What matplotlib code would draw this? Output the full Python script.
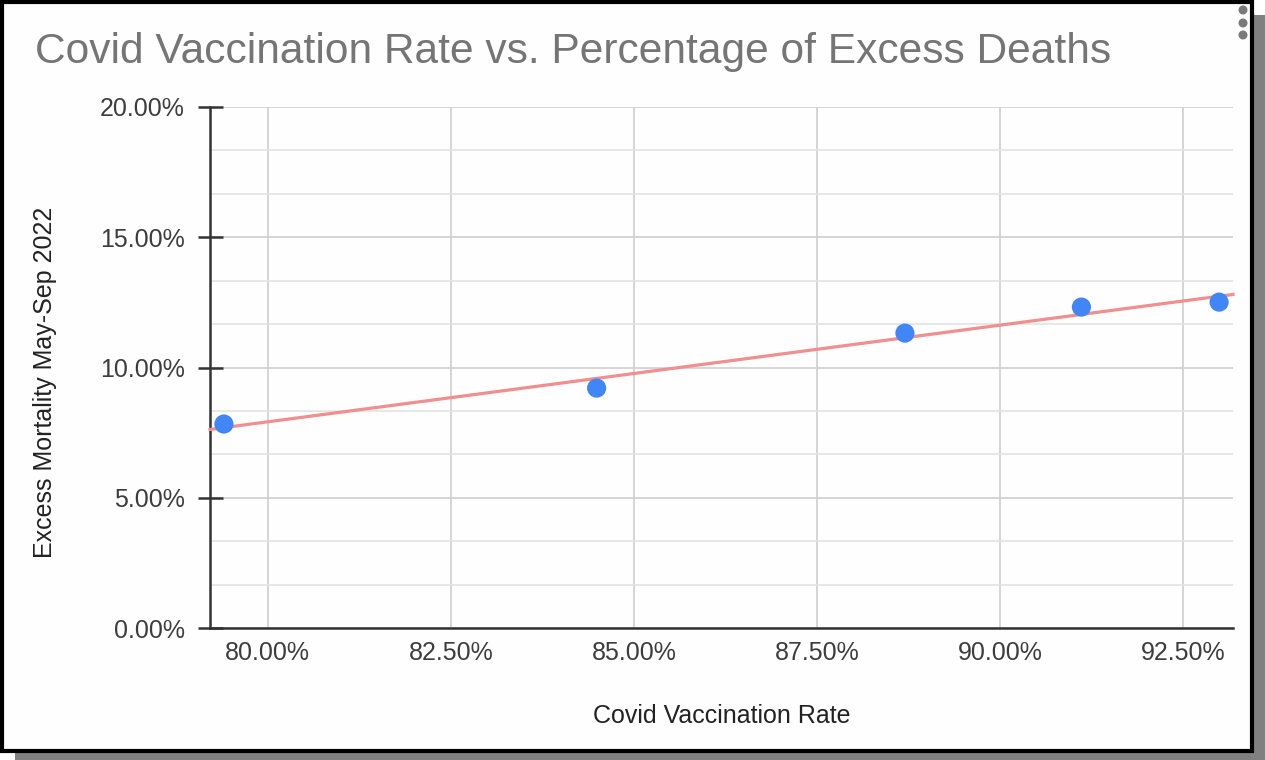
import numpy as np
import matplotlib
matplotlib.use('Agg')
import matplotlib.pyplot as plt
from matplotlib.patches import Rectangle, Ellipse
from matplotlib.ticker import FuncFormatter, MultipleLocator

plt.rcParams['font.family'] = ['Liberation Sans', 'DejaVu Sans']

# ---------------- DATA
vaccinationRate_pct = [79.40, 84.49, 88.70, 91.11, 92.99]
excessMortality_pct = [7.83, 9.21, 11.32, 12.32, 12.51]
xTicks_pct = [80.0, 82.5, 85.0, 87.5, 90.0, 92.5]
yTicks_pct = [0.0, 5.0, 10.0, 15.0, 20.0]

titleText = 'Covid Vaccination Rate vs. Percentage of Excess Deaths'
xLabelText = 'Covid Vaccination Rate'
yLabelText = 'Excess Mortality May-Sep 2022'

W, H = 1265, 760
fig = plt.figure(figsize=(W/100, H/100), dpi=100)
fig.patch.set_facecolor('white')

# frame with drop shadow
fig.add_artist(Rectangle((15/W, 0), 1250/W, 745/H, transform=fig.transFigure,
                         facecolor='#808080', edgecolor='none', zorder=-2))
fig.add_artist(Rectangle((2/W, 9/H), 1250/W, 749/H, transform=fig.transFigure,
                         facecolor='#fdfefd', edgecolor='black', linewidth=3, zorder=-1))
# menu dots top right
for yy in [10, 23, 35]:
    fig.add_artist(Ellipse((1243/W, 1 - yy/H), 9/W, 9/H, transform=fig.transFigure,
                           facecolor='#7a7a7a', edgecolor='none'))

fig.text(35/W, 1 - 63/H, titleText, fontsize=30.6, color='#757575', va='baseline', ha='left')

ax = fig.add_axes([210/W, 1 - 628/H, 1023/W, 521/H])
ax.set_facecolor('none')

xMin, xMax = 79.21, 93.18
ax.set_xlim(xMin, xMax)
ax.set_ylim(0, 20)

# trendline (linear fit)
slope, intercept = np.polyfit(vaccinationRate_pct, excessMortality_pct, 1)
xx = np.array([xMin, xMax])
ax.plot(xx, slope*xx + intercept, '-', c='#ef8f8f', lw=2.3, zorder=3, clip_on=False)

ax.scatter(vaccinationRate_pct, excessMortality_pct, s=190, c='#4285f4', edgecolors='none', zorder=4)

ax.set_xticks(xTicks_pct)
ax.set_yticks(yTicks_pct)
ax.yaxis.set_minor_locator(MultipleLocator(5/3))
ax.xaxis.set_major_formatter(FuncFormatter(lambda v, p: f'{v:.2f}%'))
ax.yaxis.set_major_formatter(FuncFormatter(lambda v, p: f'{v:.2f}%'))

ax.grid(which='major', axis='both', color='#cfcfcf', lw=1.2, zorder=0)
ax.grid(which='minor', axis='y', color='#e3e3e3', lw=1.2, zorder=0)
ax.set_axisbelow(True)

for s in ['top', 'right']:
    ax.spines[s].set_visible(False)
for s in ['left', 'bottom']:
    ax.spines[s].set_color('#333333')
    ax.spines[s].set_linewidth(1.8)

ax.tick_params(axis='x', which='both', length=0, pad=9, labelsize=18, labelcolor='#3d3d3d')
ax.tick_params(axis='y', which='major', direction='inout', length=18, width=1.8, color='#333333',
               pad=9, labelsize=18, labelcolor='#3d3d3d')
ax.tick_params(axis='y', which='minor', length=0)

ax.set_xlabel(xLabelText, fontsize=18, color='#222222')
ax.set_ylabel(yLabelText, fontsize=18, color='#222222')
ax.xaxis.label.set_va('center')
ax.yaxis.label.set_va('center')
ax.xaxis.set_label_coords((722-210)/1023, (628-716)/521)
ax.yaxis.set_label_coords((45-210)/1023, (628-382)/521)

fig.savefig('out.png', dpi=100)
